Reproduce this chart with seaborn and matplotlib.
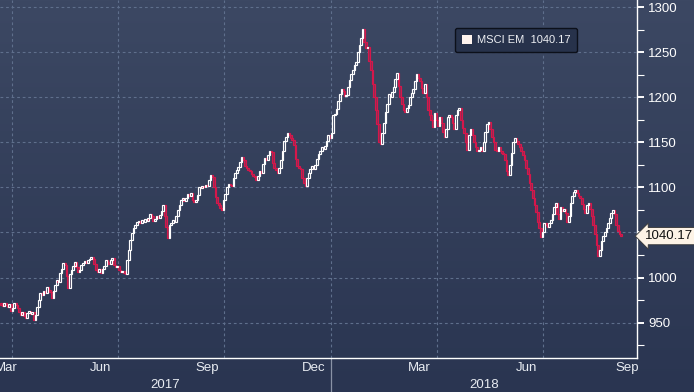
import numpy as np
import pandas as pd
import matplotlib
matplotlib.use("Agg")
import matplotlib.pyplot as plt
import matplotlib.transforms as mtransforms
from matplotlib.patches import Patch
from matplotlib.colors import LinearSegmentedColormap
import seaborn as sns

# ---------------- data ----------------
start_date = "2017-03-23"
end_date = "2018-09-05"
first_open = 972.0
closes_2017 = [
    970, 968, 972, 969, 967, 971, 963, 966, 972, 970,
    966, 962, 958, 962, 957, 955, 961, 963, 959, 962,
    953, 958, 967, 975, 983, 981, 985, 983, 989, 986,
    984, 977, 985, 992, 997, 995, 1005, 1010, 1016, 1014,
    1002, 988, 1004, 1008, 1013, 1017, 1012, 1006, 1008, 1014,
    1016, 1018, 1016, 1019, 1020, 1023, 1021, 1015, 1008, 1006,
    1010, 1005, 1009, 1013, 1019, 1017, 1015, 1019, 1022, 1014,
    1012, 1013, 1008, 1006, 1007, 1005, 1004, 1019, 1030, 1042,
    1049, 1055, 1058, 1062, 1063, 1061, 1064, 1062, 1065, 1063,
    1066, 1071, 1068, 1063, 1065, 1068, 1066, 1069, 1074, 1080,
    1068, 1056, 1044, 1058, 1061, 1064, 1062, 1068, 1075, 1080,
    1086, 1088, 1085, 1088, 1093, 1091, 1094, 1086, 1084, 1086,
    1092, 1101, 1099, 1102, 1100, 1103, 1102, 1108, 1114, 1112,
    1100, 1089, 1083, 1080, 1077, 1075, 1086, 1093, 1100, 1104,
    1103, 1102, 1110, 1116, 1119, 1123, 1128, 1134, 1130, 1124,
    1122, 1119, 1118, 1115, 1113, 1112, 1108, 1113, 1118, 1116,
    1126, 1133, 1130, 1136, 1140, 1139, 1127, 1122, 1119, 1116,
    1122, 1130, 1141, 1152, 1156, 1161, 1158, 1155, 1153, 1147,
    1132, 1124, 1122, 1120, 1111, 1105, 1102, 1110, 1116, 1120,
    1124, 1121, 1125, 1132, 1137, 1140, 1145, 1143, 1146, 1152,
    1158, 1155, 1160,
]
closes_2018 = [
    1180, 1182, 1187, 1196, 1204, 1209, 1207,
    1202, 1203, 1212, 1219, 1226, 1230, 1236, 1239, 1250, 1258,
    1266, 1276, 1262, 1255, 1256, 1240, 1230, 1215, 1200, 1186,
    1170, 1150, 1148, 1161, 1172, 1184, 1193, 1204, 1200, 1206,
    1212, 1220, 1227, 1213, 1200, 1193, 1186, 1184, 1188, 1192,
    1200, 1205, 1209, 1218, 1226, 1222, 1218, 1210, 1205, 1215,
    1200, 1186, 1180, 1175, 1167, 1183, 1175, 1168, 1178, 1172,
    1162, 1156, 1165, 1178, 1181, 1178, 1172, 1165, 1180, 1186,
    1188, 1175, 1166, 1160, 1150, 1142, 1158, 1165, 1158, 1150,
    1145, 1140, 1142, 1145, 1140, 1150, 1162, 1170, 1173, 1165,
    1156, 1150, 1142, 1140, 1145, 1141, 1138, 1137, 1130, 1118,
    1114, 1125, 1138, 1150, 1155, 1152, 1148, 1145, 1140, 1136,
    1130, 1122, 1115, 1105, 1097, 1088, 1080, 1073, 1062, 1055,
    1045, 1050, 1060, 1058, 1056, 1061, 1064, 1070, 1078, 1083,
    1070, 1065, 1078, 1074, 1076, 1072, 1062, 1068, 1083, 1090,
    1095, 1097, 1094, 1091, 1088, 1082, 1076, 1072, 1080, 1083,
    1076, 1068, 1058, 1048, 1036, 1024, 1030, 1040, 1046, 1050,
    1055, 1060, 1066, 1072, 1075, 1070, 1058, 1052, 1048, 1046,
    1040.17,
]
y_ticks = [950, 1000, 1050, 1100, 1150, 1200, 1250, 1300]
labelled_months = {3: "Mar", 6: "Jun", 9: "Sep", 12: "Dec"}
year_labels = ["2017", "2018"]
series_name = "MSCI EM"
last_text = "1040.17"

# ---------------- frame ----------------
dates = pd.bdate_range(start_date, end_date)
closes = np.array(closes_2017 + closes_2018, dtype=float)
n = min(len(dates), len(closes))
dates = dates[:n]
closes = closes[:n]
df = pd.DataFrame({"date": dates, "close": closes})
df["open"] = df["close"].shift(1).fillna(first_open)
df["idx"] = np.arange(n)
df["up"] = df["close"] >= df["open"]

sns.set_theme(style="dark")
plt.rcParams["font.family"] = ["Liberation Sans Narrow", "Liberation Sans", "DejaVu Sans"]

W, H = 694, 392
fig = plt.figure(figsize=(W / 100, H / 100), dpi=100)

# background gradient
bg = fig.add_axes([0, 0, 1, 1], zorder=0)
grad = np.linspace(0, 1, 256).reshape(-1, 1)
cmap = LinearSegmentedColormap.from_list("bgc", ["#3c4863", "#2a3551"])
bg.imshow(grad, aspect="auto", cmap=cmap, extent=[0, 1, 0, 1], origin="upper")
bg.set_axis_off()

ax_right = 637 / W
ax_bottom = 1 - 357.7 / H
ax = fig.add_axes([0, ax_bottom, ax_right, 1 - ax_bottom], zorder=2)
ax.set_facecolor("none")

xlim = (-0.65, 388.7)
ylim = (910.9, 1308.3)

# candles
up = df[df["up"]]
dn = df[~df["up"]]
bw = 1.05
ax.bar(dn["idx"], np.maximum(dn["open"] - dn["close"], 1.0), bottom=dn["close"], width=bw,
       facecolor="#8e2b52", edgecolor="#d6174b", linewidth=0.85, zorder=3)
ax.bar(up["idx"], np.maximum(up["close"] - up["open"], 1.0), bottom=up["open"], width=bw,
       facecolor="none", edgecolor="white", linewidth=0.85, zorder=4)

ax.set_xlim(*xlim)
ax.set_ylim(*ylim)

# month boundaries (business-day index)
full_days = pd.bdate_range("2017-01-01", "2018-12-31")
offset = full_days.searchsorted(pd.Timestamp(start_date))
months = pd.date_range("2017-02-01", "2018-11-01", freq="MS")
bounds = [full_days.searchsorted(m) - offset - 0.5 for m in months]
ticks_major = [b for b in bounds if xlim[0] < b < xlim[1]]
minor_pos, minor_lab = [], []
for k in range(len(months) - 1):
    m = months[k]
    if m.month in labelled_months:
        a = max(bounds[k], xlim[0])
        b = min(bounds[k + 1], xlim[1])
        if b > a:
            minor_pos.append((a + b) / 2)
            minor_lab.append(labelled_months[m.month])
ax.set_xticks(ticks_major)
ax.set_xticklabels([""] * len(ticks_major))
ax.set_xticks(minor_pos, minor=True)
ax.set_xticklabels(minor_lab, minor=True)
ax.tick_params(axis="x", which="major", direction="out", length=4, width=0.9, color="white")
ax.tick_params(axis="x", which="minor", length=0, pad=3, labelsize=9.5, labelcolor="#e8ecf2")

# quarter grid lines
grid_c = "#5f6f8c"
for k, m in enumerate(months):
    if m.month in (1, 4, 7, 10) and xlim[0] < bounds[k] < xlim[1]:
        ax.axvline(bounds[k], color=grid_c, lw=0.8, ls=(0, (2.5, 2.5)), zorder=1)
for v in y_ticks:
    ax.axhline(v, color=grid_c, lw=0.8, ls=(0, (2.5, 2.5)), zorder=1)

# year labels + separator
jan18 = full_days.searchsorted(pd.Timestamp("2018-01-01")) - offset - 0.5
blend = mtransforms.blended_transform_factory(ax.transData, ax.transAxes)
ax.text((xlim[0] + jan18) / 2, -0.075, year_labels[0], transform=blend, ha="center", va="center",
        fontsize=9.5, color="#e8ecf2")
ax.text((jan18 + xlim[1]) / 2, -0.075, year_labels[1], transform=blend, ha="center", va="center",
        fontsize=9.5, color="#e8ecf2")
ax.plot([jan18, jan18], [0, -0.11], transform=blend, color="#8a93a6", lw=0.9, clip_on=False)

# y axis on the right
ax.yaxis.tick_right()
ax.set_yticks(y_ticks)
ax.set_yticklabels([str(v) for v in y_ticks])
ax.set_yticks(np.arange(925, 1310, 50), minor=True)
ax.tick_params(axis="y", which="major", direction="out", length=5, width=1.4, color="white",
               labelsize=9.5, labelcolor="white", pad=3)
ax.tick_params(axis="y", which="minor", direction="out", length=5, width=0.8, color="white")

for s in ("top", "left"):
    ax.spines[s].set_visible(False)
for s in ("right", "bottom"):
    ax.spines[s].set_color("white")
    ax.spines[s].set_linewidth(1.0)
ax.grid(False)

# legend
handle = Patch(facecolor="#fff4ee", edgecolor="none")
leg = ax.legend([handle], [f"{series_name}  {last_text}"], loc="upper left",
                bbox_to_anchor=(455 / 637, 1 - 28 / 357.7), frameon=True, fancybox=True,
                fontsize=8, handlelength=0.9, handleheight=0.9, handletextpad=0.45,
                borderpad=0.6, borderaxespad=0.0, labelcolor="#eef0f4")
fr = leg.get_frame()
fr.set_facecolor("#27324b")
fr.set_edgecolor("#0c101a")
fr.set_linewidth(1.0)
fr.set_alpha(1)

# last price tag
ax.text(1.012, closes[-1], last_text, transform=mtransforms.blended_transform_factory(ax.transAxes, ax.transData),
        ha="left", va="center", fontsize=9.5, color="#111111", clip_on=False, zorder=10,
        bbox=dict(boxstyle="larrow,pad=0.2", fc="#fdf3e6", ec="#333333", lw=0.6))

fig.savefig("out.png", dpi=100)
